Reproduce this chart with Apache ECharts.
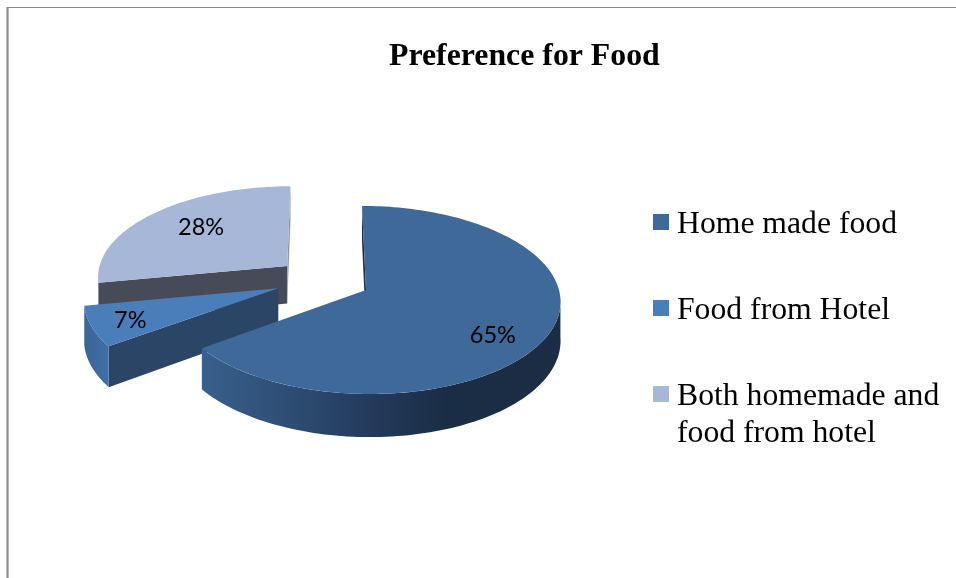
<!DOCTYPE html>
<html>
<head>
<meta charset="utf-8">
<style>html,body{margin:0;padding:0;background:#fff}#chart{width:956px;height:578px}</style>
<script src="https://cdn.jsdelivr.net/npm/echarts@6/dist/echarts.min.js"></script>
</head>
<body>
<div id="chart"></div>
<script>
// Survey shares
const chartTitle = 'Preference for Food';
const categories = ['Home made food', 'Food from Hotel', 'Both homemade and food from hotel'];
const shares = [65, 7, 28];

// Slice appearance, same order as categories
const topColors = ['#3e6999', '#4a7ebb', '#a7b7d7'];
const startFaceColors = ['#1a2c44', '#2a4565', '#464b57'];
const endFaceColors = [null, null, '#8d99b3'];
const rimColors = [
  [[0, '#38608c'], [0.22, '#2f4f76'], [0.45, '#243c5e'], [0.68, '#1a2d46'], [1, '#1a2d45']],
  [[0, '#3a6496'], [1, '#4070a8']],
  [[0, '#7f8ba6'], [1, '#7f8ba6']]
];
// Explosion of each slice in pie-radius units (x to the right, y toward the viewer)
const explode = [[0, 0], [-0.455, -0.02], [-0.414, -0.265]];
const labelRadius = 0.7;
const labelNudge = [[1, 15], [-19, 6], [9, -1]];
// Draw back slices first
const stacking = [4, 3, 2];

// Projection of the tilted pie
const view = { cx: 366, cy: 290, a: 193, b: 93, depth: 38.5, persp: 0.106, skew: 4 };

const total = shares.reduce((s, v) => s + v, 0);
const startAngles = [];
shares.reduce((acc, v, i) => { startAngles[i] = acc; return acc + v / total * 360; }, 0);

function project(i, clockDeg, r, lift) {
  const t = clockDeg * Math.PI / 180;
  const X = Math.sin(t) * r + explode[i][0];
  const Y = -Math.cos(t) * r + explode[i][1];
  const s = 1 / (1 - view.persp * Y);
  return [
    view.cx + view.a * X * s + view.skew * Y,
    view.cy + view.b * Y * s + (lift ? view.depth * s : 0)
  ];
}

function arc(i, from, to, r, lift) {
  const pts = [];
  const n = Math.max(2, Math.ceil(Math.abs(to - from) / 1.5));
  for (let k = 0; k <= n; k++) pts.push(project(i, from + (to - from) * k / n, r, lift));
  return pts;
}

function renderSlice(i) {
  const a0 = startAngles[i];
  const a1 = a0 + shares[i] / total * 360;
  const apex = project(i, 0, 0, false);
  const apexLow = project(i, 0, 0, true);
  const face = (deg, fill) => ({
    type: 'polygon',
    shape: { points: [apex, project(i, deg, 1, false), project(i, deg, 1, true), apexLow] },
    style: { fill }
  });
  const children = [face(a0, startFaceColors[i])];
  if (endFaceColors[i]) children.push(face(a1, endFaceColors[i]));

  // Outer wall, only the part turned toward the viewer
  const r0 = Math.max(a0, 95);
  const r1 = Math.min(a1, 265);
  if (r1 > r0) {
    children.push({
      type: 'polygon',
      shape: { points: arc(i, r0, r1, 1, false).concat(arc(i, r1, r0, 1, true)) },
      style: {
        fill: {
          type: 'linear', x: 1, y: 0, x2: 0, y2: 0,
          colorStops: rimColors[i].map(([o, c]) => ({ offset: 1 - o, color: c })).reverse()
        }
      }
    });
  }

  // Top surface
  children.push({
    type: 'polygon',
    shape: { points: [apex].concat(arc(i, a0, a1, 1, false)) },
    style: { fill: topColors[i] }
  });

  // Percentage label
  const mid = project(i, (a0 + a1) / 2, labelRadius, false);
  children.push({
    type: 'text',
    style: {
      x: mid[0] + labelNudge[i][0],
      y: mid[1] + labelNudge[i][1],
      text: shares[i] + '%',
      fill: '#000',
      font: '23.5px Lato',
      align: 'center',
      verticalAlign: 'middle'
    }
  });
  return { type: 'group', children };
}

const legendText = {
  color: '#000',
  fontFamily: 'Liberation Serif',
  fontSize: 31.7,
  lineHeight: 37,
  padding: [0, 0, 0, 3]
};
const legendBase = {
  orient: 'vertical',
  left: 653,
  padding: 0,
  // Square swatch in the upper part of a taller icon box, sitting slightly above the text middle
  icon: 'path://M0 0H16V16H0Z M0 22L16 22Z',
  itemWidth: 16,
  itemHeight: 22,
  selectedMode: false,
  textStyle: legendText
};

const chart = echarts.init(document.getElementById('chart'), null, { renderer: 'canvas' });
chart.setOption({
  animation: false,
  backgroundColor: '#fff',
  title: {
    text: chartTitle,
    left: 389,
    top: 41,
    padding: 0,
    textStyle: { color: '#000', fontFamily: 'Liberation Serif', fontWeight: 'bold', fontSize: 31.8 }
  },
  legend: [
    Object.assign({}, legendBase, { top: 206.5, itemGap: 49, data: categories.slice(0, 2) }),
    Object.assign({}, legendBase, {
      top: 341.5,
      data: categories.slice(2),
      // The blank first line keeps the swatch level with the first line of text
      formatter: () => '\nBoth homemade and\nfood from hotel'
    })
  ],
  graphic: [
    {
      type: 'line',
      silent: true,
      shape: { x1: 7.5, y1: 7, x2: 7.5, y2: 578 },
      style: { stroke: '#8f8f8f', lineWidth: 2.2 }
    },
    {
      type: 'line',
      silent: true,
      shape: { x1: 7, y1: 7.5, x2: 956, y2: 7.5 },
      style: { stroke: '#8c8c8c', lineWidth: 1.2 }
    }
  ],
  series: categories.map((name, i) => ({
    type: 'custom',
    name,
    coordinateSystem: 'none',
    z: stacking[i],
    itemStyle: { color: topColors[i] },
    data: [shares[i]],
    renderItem: () => renderSlice(i)
  }))
});
</script>
</body>
</html>
